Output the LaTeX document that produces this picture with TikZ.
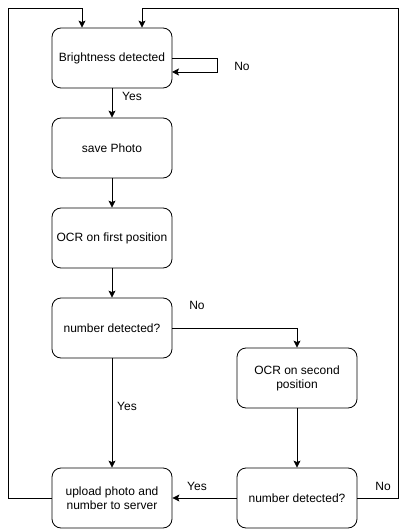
\documentclass[tikz,border=0pt]{standalone}
\usepackage{fontspec}
\setmainfont{Liberation Sans}
\usetikzlibrary{arrows.meta}
\begin{document}
\begin{tikzpicture}[x=1pt,y=-1pt,
  box/.style={draw, line width=0.8pt, rounded corners=9pt, minimum width=120pt, minimum height=60pt, align=center, font=\fontsize{12}{14}\selectfont, inner sep=2pt},
  lbl/.style={font=\fontsize{12}{14}\selectfont, inner sep=0pt},
  arr/.style={draw, line width=0.8pt, -{Stealth[length=7pt,width=7pt,inset=1.5pt]}}]
\useasboundingbox (0,0) rectangle (406,529);
\node[box] (b1) at (112,58) {Brightness detected};
\node[box] (b2) at (112,148) {save Photo};
\node[box] (b3) at (112,238) {OCR on first position};
\node[box] (b4) at (112,328) {number detected?};
\node[box] (b5) at (297,378) {OCR on second\\position};
\node[box] (b6) at (112,498) {upload photo and\\number to server};
\node[box] (b7) at (297,498) {number detected?};
\coordinate (loopA) at (217,58);
\coordinate (loopB) at (217,72);
\coordinate (loopC) at (172,72);
\coordinate (lt) at (8,8);
\coordinate (rt) at (398,8);
\draw[arr] (b1.east) -- (loopA) -- (loopB) -- (loopC);
\draw[arr] (b1) -- (b2);
\draw[arr] (b2) -- (b3);
\draw[arr] (b3) -- (b4);
\draw[arr] (b4.east) -| (b5.north);
\draw[arr] (b4) -- (b6);
\draw[arr] (b5) -- (b7);
\draw[arr] (b7) -- (b6);
\draw[arr] (b6.west) -| (lt) -| ([xshift=-30pt]b1.north);
\draw[arr] (b7.east) -| (rt) -| ([xshift=30pt]b1.north);
\node[lbl] (l1) at (242,66) {No};
\node[lbl] (l2) at (132,96) {Yes};
\node[lbl] (l3) at (197,305) {No};
\node[lbl] (l4) at (127,406) {Yes};
\node[lbl] (l5) at (197,486) {Yes};
\node[lbl] (l6) at (383,486) {No};
\end{tikzpicture}
\end{document}
